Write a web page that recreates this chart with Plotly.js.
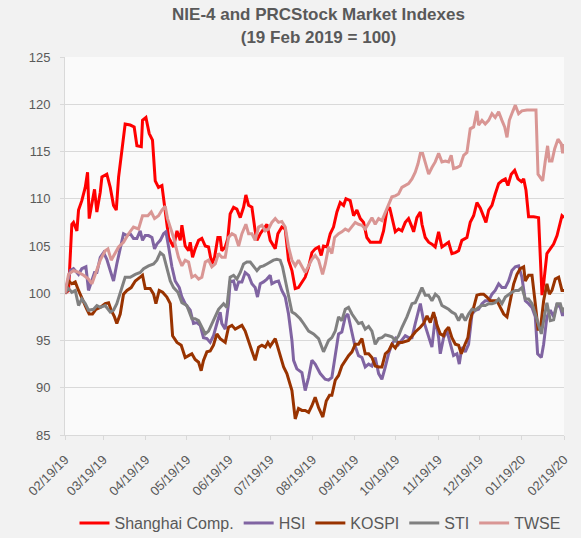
<!DOCTYPE html>
<html>
<head>
<meta charset="utf-8">
<script src="https://cdn.plot.ly/plotly-3.0.1.min.js"></script>
<style>
  html, body { margin: 0; padding: 0; background: #f2f2f2; }
  #chart { width: 581px; height: 538px; }
</style>
</head>
<body>
<div id="chart"></div>
<script>
// Days after 19 Feb 2019, and index values (19 Feb 2019 = 100)
const baseDate = '2019-02-19';

const shanghaiDays = [0,2.6,5,6.2,8.7,9.9,12.3,14.8,16.5,17.7,19.7,21.6,23.3,25.8,27,30.6,33.1,35.5,37.5,39.2,41.6,44,47.7,50.6,52.6,55.8,56.7,59.2,61.6,64,66,68.4,70.9,73.3,75.8,79.4,81.9,84.3,85.5,87.9,90.4,91.6,93.3,95.2,97.7,100.1,102.6,105,107.4,109.4,111.8,113.5,114.7,117.2,119.1,120.8,123.3,125.7,128.2,130.6,132.3,134.3,136.7,139.1,140.4,142.8,145.2,147.7,150.1,152.5,153.8,155.7,158.6,161.1,163.5,166,168.4,170.8,173.3,175.7,178.2,180.6,183,185.5,187.4,189.1,191.6,194,196.4,198.9,201.3,203.8,205.5,208.6,211.1,213.5,216,218.4,220.8,223.3,228.2,230.6,233,235.5,237.4,239.1,241.6,244,246.4,248.9,251.3,253.8,255,257.4,259.9,261.1,263.5,266,268.4,270.8,273.3,275.7,278.2,280.6,283,285.5,287.9,290.3,294,296.4,298.9,301.3,303.8,306.2,307.9,309.9,312.3,314.7,317.2,319.6,322.1,324,326.4,328.9,331.3,333.8,335.5,337.2,339.1,342.8,346.4,348.9,350.1,352.5,355,357.4,359.9,361.6,363.5,365];
const shanghaiVals = [100,100.3,107.3,107.5,106.6,108.8,109.8,111.2,112.8,107.9,109.5,111,108.6,110.7,112.3,112.6,111.2,109.3,108.8,112.3,115.1,117.9,117.8,117.6,115.6,115.5,118.3,118.6,116.9,116.2,111.9,111.2,111.4,108.8,105.9,104.9,106.6,105.6,107.2,105,104.5,105.4,103.8,104.7,105.6,105.8,105,104.9,103.1,103.8,105.9,105.9,104.5,104.9,105.8,108.4,109.1,108.9,108,109.1,110.4,109.3,109.1,106.6,105.6,106.3,106.8,107.3,105.6,105,104.7,106.3,107,106.8,103.5,102.4,100.5,100.6,101.2,101.7,102.8,104.3,104.7,104.9,104,105,104.9,106.3,107,108.6,109.6,109.3,110,109.8,108.2,108.8,107.9,107.5,105.9,105.4,105.4,105.4,106.6,108.8,109.1,107.9,106.5,106.8,106.6,107.5,107.9,107,106.5,108,108.6,107.3,105.9,105.4,105.2,104.9,106.5,104.9,105.2,105.4,104.2,104.3,104.5,105.6,105.9,107.5,108.2,109.6,109,108,107.5,108.8,109.3,110.5,111.6,111.9,112.1,111.4,112.6,113,112.1,111.8,112.1,110.9,108.1,108.1,108,99.8,101,104.2,104.7,105.2,106.1,107,108.2,108];

const hsiDays = [0,3.8,6.2,9.9,12.3,15.3,17.2,19.7,21.6,23.3,25.8,28.2,30.6,33.1,35.5,37.9,40.4,42.8,45.3,47.7,50.1,52.6,55,56.7,58.7,61.1,63.6,65.5,67.2,69.7,72.1,73.8,75.8,78.2,80.6,83.6,85.5,87.9,91.6,94,96.5,98.9,101.3,103.8,106.2,108.6,111.1,113.5,114.7,117.2,119.6,120.8,123.3,125,127,129.4,131.8,134.3,136.7,139.1,140.8,142.8,145.2,147.7,150.1,151.3,153.8,156.2,158.6,161.1,163.5,166,167.2,169.6,173.3,175.7,178.2,180.6,183,186.7,190.3,192.8,195.2,197.7,200.1,202.5,205,206.9,209.4,211.8,214.7,217.2,219.6,222.1,224.5,226.9,229.4,231.8,234.3,236.7,239.1,241.6,244,246.4,248.9,251.3,253.8,256.2,258.7,259.9,262.3,266,268.4,270.9,273.3,274.5,276.9,279.4,281.8,284.2,286.7,288.4,290.3,292.8,295.2,297.7,300.1,302.5,305,307.4,309.9,312.3,314.7,317.2,319.6,322.1,324.5,326.9,329.4,331.8,334.2,336.7,339.1,341.6,344,345.7,348.4,350.1,352.5,355,357.4,359.9,362.3,364,365];
const hsiVals = [100,102.4,102.6,102,102.6,102.8,100.3,101.3,102.2,102.2,103.8,104.3,103.6,102.4,101.3,103.1,104.7,106.3,106.1,106.3,105.8,105.8,106.6,105.6,106.1,106.1,105.9,104.7,105.2,105.6,106.3,106.5,104.9,102.8,101.3,100.6,99.6,98.9,98.2,96.8,96.9,96.6,95.3,95.2,94.8,95.5,96.8,98,96.8,96.2,98.9,101.2,101.3,100.3,101.2,101.2,102.2,101.9,101,100.6,99.6,101,101.2,101.5,101.9,101,101.2,101.3,100.3,99.6,97.8,95,92.9,92,91.6,89.7,91.1,92.9,92.5,91.5,90.9,90.8,91.1,93.6,95.7,95.9,97.5,97.8,96,94.6,93.4,93.2,92.2,92.5,92.3,93.2,91.5,90.9,92.2,93.6,94.6,95.2,94.6,95,95.5,95.3,95.3,96.8,98.2,98.9,97.1,95.3,94.3,97.5,95.3,93.6,95.3,96,94.6,93.4,93.6,92.5,94.3,93.8,94.6,97.8,98.2,98.3,98.9,99.2,99.2,99.9,100.3,101,100.6,100.6,101.3,102.4,102.8,102.9,101.7,99.2,98.9,98.5,97.5,93.6,93.2,94.6,97.5,98.2,97.5,98.9,98.5,97.6,98.3];

const kospiDays = [0,2.6,5,7.5,9.9,13.6,16,17.7,20.1,22.6,25.8,29.4,31.9,33.8,36.2,37.9,40.4,42.8,45.3,48.4,51.4,55,56.7,58.7,62.3,64.8,66.5,68.9,71.4,74.5,77,78.7,81.9,85,87.9,90.4,92.8,95.2,97.7,99.6,101.3,103.8,106.2,108.6,111.1,113.5,117.2,119.6,122.1,124.5,127,129.4,131.8,134.3,136.7,139.1,141.6,144,146.5,148.4,150.1,153.8,156.2,159.9,162.3,166,168.4,170.8,173.3,175.7,178.2,180.6,183,185.5,188.6,191.1,193.5,195.2,197.7,200.1,202.5,205,207.4,209.9,212.3,214.7,217.2,219.6,222.1,224.5,226.9,229.4,231.8,234.3,236.7,239.1,241.6,244,246.5,251.3,253.8,256.2,259.9,262.3,264.8,267.2,269.6,272.1,274.5,276.9,278.2,280.6,283,285.5,287.9,289.9,292.3,294.7,296.4,298.9,301.3,303.8,306.2,308.6,311.1,313.5,316,318.4,320.9,323.3,325.7,328.2,330.6,333,335.5,336.7,339.1,341.6,344,346,347.7,350.1,352.5,354.3,356.2,358.6,361.1,363.5,365];
const kospiVals = [100,101.3,101,101.2,100.3,99,98.3,97.8,97.8,98.3,98.5,98.9,99,98.2,97.5,96.8,97.8,99.9,100.3,100.6,101.3,101.7,101.9,100.5,100.5,99.9,98.9,100.3,100.1,99.6,98.9,95.5,94.8,94.5,93.2,93.4,93.6,93,92.7,91.8,92.9,93.8,93.9,94.5,95.7,95.2,94.8,96.4,96.6,96.2,96.4,96.6,96,94.8,93.9,92.9,94.3,94.5,94.3,94.8,94.4,95.2,93.9,92.2,91.5,89.7,86.7,87.8,87.6,87.6,87.4,88.1,89,87.9,86.9,88.6,89.2,89.2,90.8,91.3,92.3,92.9,93.4,93.8,94.6,94.6,95.2,93.6,93.6,93.2,92.3,92.2,92.2,93.6,93.9,94.6,94.2,94.8,94.8,95,95.5,95.9,96.4,96.8,97.6,96.9,98,96.6,95.7,95.5,96,96.4,95.3,94.6,94.5,93.6,94.5,95.3,97.1,98.5,99.8,99.9,99.9,99.6,99.2,99.2,99.2,98.5,97.8,97.5,99.2,101,102,102.6,102.8,101.3,101.9,101.9,98.9,96.2,96.2,99.2,101,99.9,100.3,101.5,101.7,100.3,100.3];

const stiDays = [0,2.6,5,7.5,9.9,12.3,14.8,17.2,20.9,23.3,25.8,29.4,33.1,35.5,37.9,41.6,44,47.7,51.4,55,57.5,61.1,64.8,67.2,69.7,72.1,74.5,77,79.4,82.6,85.5,89.1,92.8,95.2,97.7,100.1,102.6,105,107.4,109.9,112.3,116,118.4,120.8,123.3,125.7,128.2,130.6,133,135.5,137.9,140.4,142.8,145.2,147.7,150.1,152.5,155,157.4,159.1,161.6,163.5,166,168.4,172,174.5,178.2,181.8,185.5,189.1,192.8,195.2,197.7,200.1,202.5,205,207.4,209.9,212.3,214.7,217.2,219.6,222.1,224.5,226.9,229.4,231.8,234.3,236.7,239.1,241.6,244,246.5,250.1,253.8,256.2,258.7,261.1,263.5,266,268.4,270.9,273.3,275.7,278.2,280.6,283,285.5,287.9,290.3,292.8,295.2,297.7,300.1,302.5,305,307.4,309.9,312.3,314.7,317.2,319.6,322.1,324.5,326.9,329.4,331.8,334.2,336.7,339.1,341.6,344,346,348.4,350.1,352.5,355,357.4,359.9,362.3,364,365];
const stiVals = [100,100.5,100.1,100.3,98.7,99.4,98.9,98.2,98.3,98.7,98.5,98.7,98,98.2,98.9,100.6,101.7,101.7,102,102.2,102.6,102.9,103.1,103.5,104.3,104,102.6,101.3,100.6,100.1,99,98.7,97.3,97.3,97.1,96.4,95.7,96,96.8,97.5,98.3,98.9,98.5,101.7,101.9,101.5,102.2,103.1,103.3,103.3,102.8,102.4,102.8,102.9,103.1,103.3,103.5,103.6,103.5,102.8,101,99.6,98,97.8,97.3,96.8,96,95.7,95.2,93.8,95,95.3,96,97.5,97.1,98.3,98.5,97.8,97.3,96.8,96.9,96.2,96.5,96,94.6,95.2,95.3,95.6,95.5,95.4,95,95.5,96.4,97.5,98.9,99,99.8,100.6,99.8,99.8,99.2,99.9,99.6,98.7,98.5,98.3,98,97.8,97.1,97.8,97.1,97.8,98.3,98.2,98.5,98.7,98.7,98.9,98.9,99,99.4,98.9,99.6,99.9,100.1,100.3,100.3,100.6,99.4,99.4,98.9,97.8,96.8,95.7,97.1,99,97.1,97.2,98.9,98.9,98,98.5];

const twseDays = [0,2.6,6.2,9.9,13.6,17.2,19.7,22.1,25.8,29.4,31.4,33.8,36.2,39.2,42.8,46.5,50.1,53.8,56.7,60.6,63.1,65.5,68.4,70.9,73.3,75,77,79.4,83,85.5,87.9,90.4,92.8,95.2,97.7,100.1,102.6,105,107.4,109.9,112.3,114.7,117.2,119.6,122.1,124.5,127,129.4,132.3,134.3,136.7,139.1,141.6,144,146.5,148.9,151.3,153.8,156.2,158.6,161.1,163.5,166,168.4,170.8,173.3,175.7,178.2,180.6,183,185.5,188.4,190.4,192.8,195.2,197.2,200.1,202.5,205,207.4,209.9,212.3,214.7,217.2,219.6,222.1,224.5,226.9,229.4,231.8,233.8,236.2,239.1,241.6,244,246.4,248.9,251.3,253.8,256.2,258.2,259.9,261.6,263.5,266,268.4,270.8,273.3,275.7,278.2,280.6,282.5,284.2,286.7,289.1,291.6,294,296.4,298.9,301.3,302.5,305,307.4,309.9,312.3,314.7,317.2,319.6,321.6,323.3,325,327.4,329.4,331.8,334.2,337.9,341.6,344.5,346,347.7,349.4,351.3,353,354.3,356.2,358.2,360.6,363,364,365];
const twseVals = [100,102,102.4,102.2,101.9,101.5,101,101.9,103.5,104.5,104.7,103.5,104.2,104.9,105.4,106.3,107,106.8,108.2,108.2,108.6,107.9,108.2,108.8,109.2,107.9,107,105.9,103.8,102.9,103.5,103.3,101.7,101.9,101.5,101.7,103.3,103.5,102.8,103.1,104.2,103.8,103.8,105.9,106.3,106.1,105,106.3,107.3,106.3,106.3,105.6,107,107.2,106.6,106.8,107.5,107.9,107.5,107.6,107,104.9,103.5,102.9,103.5,102.9,102.2,102.9,103.6,104,103.5,102,103.1,104.9,104.2,105.9,106.3,106.5,106.8,106.6,107,107.5,107.3,107.2,106.8,107.5,108,107.3,107.9,107.7,108.4,109.1,110.2,110.3,110.5,111.2,111.4,111.6,112.1,112.8,113.7,114.8,114.8,113.9,112.6,113.3,113.9,114.8,113.9,114,113.9,114.6,113.2,113.3,113.5,114.6,114.9,117.4,117.6,119.3,117.8,118.3,117.9,118.3,119,118.6,119.2,118.3,117.6,116.5,118.3,119.2,119.9,119,119.3,119.4,119.4,119.4,112.6,112.3,111.9,114,115.6,114,114,115.3,116.3,115.8,114.8,115.8];

const seriesNames = ['Shanghai Comp.', 'HSI', 'KOSPI', 'STI', 'TWSE'];
const seriesColors = ['#ff0000', '#8064a2', '#993300', '#808080', '#d99694'];
const tickDates = ['2019-02-19','2019-03-19','2019-04-19','2019-05-19','2019-06-19','2019-07-19','2019-08-19','2019-09-19','2019-10-19','2019-11-19','2019-12-19','2020-01-19','2020-02-19'];
const tickLabels = ['02/19/19','03/19/19','04/19/19','05/19/19','06/19/19','07/19/19','08/19/19','09/19/19','10/19/19','11/19/19','12/19/19','01/19/20','02/19/20'];

const baseMs = Date.parse(baseDate + 'T00:00:00Z');
function toDates(days) {
  return days.map(d => new Date(baseMs + d * 86400000).toISOString().slice(0, 19).replace('T', ' '));
}

const dayArrays = [shanghaiDays, hsiDays, kospiDays, stiDays, twseDays];
const valArrays = [shanghaiVals, hsiVals, kospiVals, stiVals, twseVals];

const traces = seriesNames.map((name, i) => ({
  type: 'scatter',
  mode: 'lines',
  name: name,
  x: toDates(dayArrays[i]),
  y: valArrays[i],
  line: { color: seriesColors[i], width: 3 }
}));

const layout = {
  width: 581,
  height: 538,
  paper_bgcolor: '#f2f2f2',
  plot_bgcolor: '#fafafa',
  margin: { l: 65, r: 17, t: 57, b: 103, autoexpand: false },
  font: { family: 'Liberation Sans, Arial, sans-serif', color: '#595959' },
  title: {
    text: '<b>NIE-4 and PRCStock Market Indexes<br>(19 Feb 2019 = 100)</b>',
    font: { size: 17, color: '#595959', family: 'Liberation Sans, Arial, sans-serif' },
    x: 0.508, xref: 'paper', xanchor: 'center', y: 0.962, yref: 'container', yanchor: 'top'
  },
  xaxis: {
    type: 'date',
    range: ['2019-02-19', '2020-02-19'],
    tickvals: tickDates,
    ticktext: tickLabels,
    tickangle: -45,
    tickfont: { size: 13, color: '#595959' },
    ticks: 'outside', ticklen: 4, tickcolor: '#d9d9d9',
    ticklabelstandoff: 7,
    showgrid: false,
    showline: true, linecolor: '#d9d9d9', linewidth: 1,
    zeroline: false,
    automargin: false
  },
  yaxis: {
    range: [85, 125],
    dtick: 5,
    tick0: 85,
    tickfont: { size: 13, color: '#595959' },
    ticks: 'outside', ticklen: 4, tickcolor: '#d9d9d9',
    ticklabelstandoff: 7,
    showgrid: true, gridcolor: '#d9d9d9', gridwidth: 1,
    showline: true, linecolor: '#d9d9d9', linewidth: 1,
    zeroline: false,
    automargin: false
  },
  showlegend: true,
  legend: {
    orientation: 'h',
    x: 0.511, xanchor: 'center',
    y: -0.188, yanchor: 'top',
    font: { size: 16, color: '#595959' },
    bgcolor: 'rgba(0,0,0,0)'
  }
};

Plotly.newPlot('chart', traces, layout, { displayModeBar: false, staticPlot: true });
</script>
</body>
</html>
